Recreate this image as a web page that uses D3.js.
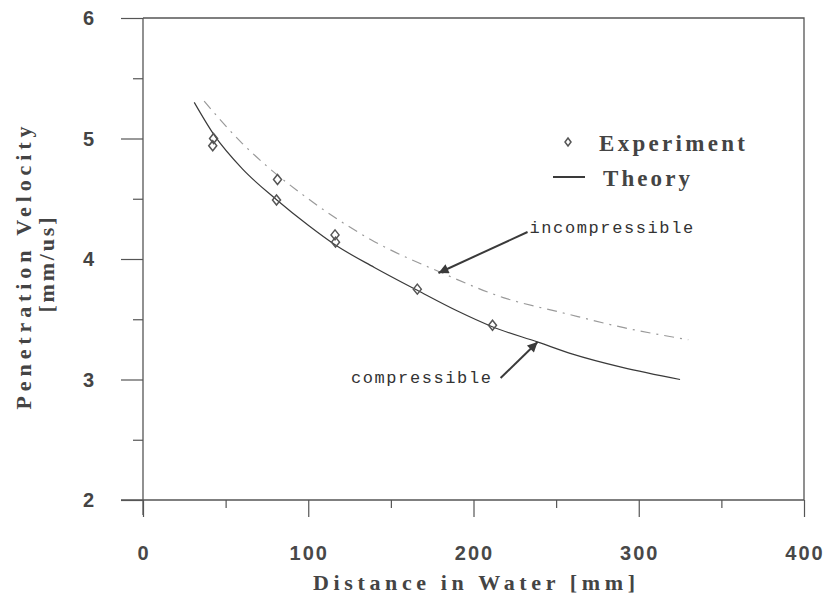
<!DOCTYPE html>
<html>
<head>
<meta charset="utf-8">
<script src="https://cdn.jsdelivr.net/npm/d3@7"></script>
<style>
  body { margin: 0; background: #fff; }
  svg { display: block; }
</style>
</head>
<body>
<div id="chart"></div>
<script>
// experiment points (distance mm, velocity mm/us)
var expDist = [42.7, 42.2, 81.4, 80.8, 116.2, 116.5, 166, 211.5];
var expVel  = [5.00, 4.94, 4.66, 4.49, 4.20, 4.14, 3.75, 3.45];

// theory, compressible (solid)
var compDist = [31, 43, 60, 81, 100, 116, 140, 166, 190, 211, 239, 260, 290, 325];
var compVel  = [5.30, 5.03, 4.75, 4.49, 4.28, 4.12, 3.93, 3.74, 3.57, 3.44, 3.31, 3.21, 3.10, 3.00];

// theory, incompressible (dash-dot)
var incDist = [37, 60, 75, 97, 138, 180, 218, 255, 291, 330];
var incVel  = [5.31, 4.96, 4.77, 4.53, 4.16, 3.89, 3.68, 3.55, 3.43, 3.33];

var xTicks = [0, 100, 200, 300, 400];
var yTicks = [2, 3, 4, 5, 6];

var width = 825, height = 598;
var svg = d3.select("#chart").append("svg")
    .attr("width", width)
    .attr("height", height);

var xScale = d3.scaleLinear().domain([0, 400]).range([143, 804]);
var yScale = d3.scaleLinear().domain([2, 6]).range([500, 18]);

var ink = "#3a3a3a";

// frame (top + right)
svg.append("path")
    .attr("d", "M" + xScale(0) + "," + yScale(6) + "H" + xScale(400) + "V" + yScale(2))
    .attr("fill", "none").attr("stroke", "#555").attr("stroke-width", 1.3);

// x axis
var xAxis = svg.append("g").attr("transform", "translate(0," + yScale(2) + ")");
xAxis.call(d3.axisBottom(xScale).tickValues(d3.range(0, 401, 50)).tickSize(8).tickFormat(""));
xAxis.selectAll(".tick line").filter(d => d % 100 === 0).attr("y2", 17);
xAxis.selectAll("path.domain").remove();
xAxis.append("line").attr("x1", xScale(0) - 22).attr("x2", xScale(400)).attr("stroke", "#555").attr("stroke-width", 1.3);
xAxis.selectAll(".tick line").attr("stroke", "#555").attr("stroke-width", 1.2);

svg.append("g").selectAll("text").data(xTicks).enter().append("text")
    .attr("x", d => xScale(d) + 1)
    .attr("y", 560)
    .attr("text-anchor", "middle")
    .attr("font-family", "Liberation Sans, Arial, sans-serif")
    .attr("font-weight", "bold")
    .attr("font-size", 20)
    .attr("letter-spacing", 2)
    .attr("fill", "#484848")
    .text(d => d);

// y axis
var yAxis = svg.append("g").attr("transform", "translate(" + xScale(0) + ",0)");
yAxis.call(d3.axisLeft(yScale).tickValues(d3.range(2, 6.01, 0.5)).tickSize(10).tickFormat(""));
yAxis.selectAll(".tick line").filter(d => d % 1 === 0).attr("x2", -22);
yAxis.selectAll("path.domain").remove();
yAxis.append("line").attr("y1", yScale(6)).attr("y2", yScale(2) + 15).attr("stroke", "#555").attr("stroke-width", 1.3);
yAxis.selectAll(".tick line").attr("stroke", "#555").attr("stroke-width", 1.2);

svg.append("g").selectAll("text").data(yTicks).enter().append("text")
    .attr("x", 94)
    .attr("y", d => yScale(d) + 7)
    .attr("text-anchor", "end")
    .attr("font-family", "Liberation Sans, Arial, sans-serif")
    .attr("font-weight", "bold")
    .attr("font-size", 20)
    .attr("fill", "#444")
    .text(d => d);

// axis titles
var serif = "Liberation Serif, Times New Roman, serif";
svg.append("text")
    .attr("x", 474).attr("y", 590)
    .attr("text-anchor", "middle")
    .attr("font-family", serif).attr("font-weight", "bold").attr("font-size", 22)
    .attr("fill", "#444")
    .attr("textLength", 322).attr("lengthAdjust", "spacing")
    .text("Distance in Water [mm]");

svg.append("text")
    .attr("transform", "translate(31,268) rotate(-90)")
    .attr("text-anchor", "middle")
    .attr("font-family", serif).attr("font-weight", "bold").attr("font-size", 22)
    .attr("fill", "#444")
    .attr("textLength", 283).attr("lengthAdjust", "spacing")
    .text("Penetration Velocity");

svg.append("text")
    .attr("transform", "translate(54,265) rotate(-90)")
    .attr("text-anchor", "middle")
    .attr("font-family", serif).attr("font-weight", "bold").attr("font-size", 22)
    .attr("fill", "#444")
    .attr("textLength", 95).attr("lengthAdjust", "spacing")
    .text("[mm/us]");

// theory curves
var line = d3.line()
    .x(d => xScale(d[0]))
    .y(d => yScale(d[1]))
    .curve(d3.curveMonotoneX);

svg.append("path")
    .datum(incDist.map((d, i) => [d, incVel[i]]))
    .attr("d", line)
    .attr("fill", "none")
    .attr("stroke", "#9a9a9a")
    .attr("stroke-width", 1.2)
    .attr("stroke-dasharray", "10,6,2,6");

svg.append("path")
    .datum(compDist.map((d, i) => [d, compVel[i]]))
    .attr("d", line)
    .attr("fill", "none")
    .attr("stroke", ink)
    .attr("stroke-width", 1.2);

// experiment diamonds
var diamond = "M0,-5L4,0L0,5L-4,0Z";
svg.append("g").selectAll("path").data(expDist).enter().append("path")
    .attr("transform", (d, i) => "translate(" + xScale(d) + "," + yScale(expVel[i]) + ")")
    .attr("d", diamond)
    .attr("fill", "none")
    .attr("stroke", "#555")
    .attr("stroke-width", 1.5);

// legend
svg.append("path")
    .attr("transform", "translate(568,142)")
    .attr("d", "M0,-4L3,0L0,4L-3,0Z")
    .attr("fill", "none").attr("stroke", "#555").attr("stroke-width", 1.5);
svg.append("text")
    .attr("x", 599).attr("y", 151)
    .attr("font-family", serif).attr("font-weight", "bold").attr("font-size", 23)
    .attr("fill", "#444")
    .attr("textLength", 146).attr("lengthAdjust", "spacing")
    .text("Experiment");
svg.append("line")
    .attr("x1", 553).attr("x2", 585).attr("y1", 177).attr("y2", 177)
    .attr("stroke", ink).attr("stroke-width", 2);
svg.append("text")
    .attr("x", 603).attr("y", 186)
    .attr("font-family", serif).attr("font-weight", "bold").attr("font-size", 23)
    .attr("fill", "#444")
    .attr("textLength", 87).attr("lengthAdjust", "spacing")
    .text("Theory");

// annotations with arrows
svg.append("defs").append("marker")
    .attr("id", "arrow")
    .attr("viewBox", "0 0 10 10")
    .attr("refX", 10).attr("refY", 5)
    .attr("markerWidth", 7).attr("markerHeight", 5)
    .attr("markerUnits", "strokeWidth")
    .attr("orient", "auto")
    .append("path").attr("d", "M0,0L10,5L0,10Z").attr("fill", ink);

var mono = "Liberation Mono, Courier New, monospace";
var notes = [
    {label: "incompressible", tx: 233.9, tv: 4.216, anchor: "start", x1: 232.7, v1: 4.224, x2: 178.8, v2: 3.884},
    {label: "compressible", tx: 211.5, tv: 2.97, anchor: "end", x1: 216.4, v1: 3.012, x2: 238.8, v2: 3.311}
];
notes.forEach(function(n) {
    svg.append("line")
        .attr("x1", xScale(n.x1)).attr("y1", yScale(n.v1))
        .attr("x2", xScale(n.x2)).attr("y2", yScale(n.v2))
        .attr("stroke", ink).attr("stroke-width", 2)
        .attr("marker-end", "url(#arrow)");
    svg.append("text")
        .attr("x", xScale(n.tx)).attr("y", yScale(n.tv))
        .attr("text-anchor", n.anchor)
        .attr("font-family", mono).attr("font-size", 17)
        .attr("letter-spacing", 1.6)
        .attr("fill", "#333")
        .text(n.label);
});
</script>
</body>
</html>
